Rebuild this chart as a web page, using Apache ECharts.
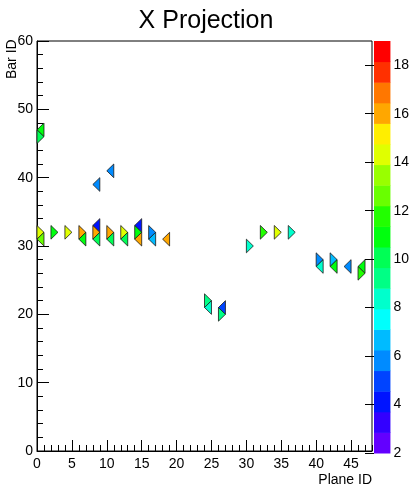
<!DOCTYPE html>
<html>
<head>
<meta charset="utf-8">
<script src="https://cdn.jsdelivr.net/npm/echarts@6/dist/echarts.min.js"></script>
<style>
  html, body { margin: 0; padding: 0; background: #fff; }
  #chart { width: 412px; height: 487px; }
</style>
</head>
<body>
<div id="chart"></div>
<script>
// hits: plane, bar, deposited value
const planeIds = [0, 0, 0, 0, 2, 4, 6, 6, 8, 8, 8, 8, 10, 10, 10, 12, 12, 14, 14, 14, 16, 16, 18,
  24, 24, 26, 26, 30, 32, 34, 36, 40, 40, 42, 42, 44, 46, 46];
const barIds = [32, 31, 47, 46, 32, 32, 32, 31, 33, 32, 31, 39, 32, 31, 41, 32, 31, 33, 32, 31, 32, 31, 31,
  22, 21, 21, 20, 30, 32, 32, 32, 28, 27, 28, 27, 27, 27, 26];
const energies = [14.3, 12.6, 11.0, 10.0, 11.2, 14.4, 16.0, 11.0, 4.2, 16.0, 10.0, 5.8, 16.2, 10.0, 5.8,
  14.4, 10.2, 4.4, 11.0, 16.0, 5.9, 6.7, 16.0,
  9.3, 8.6, 4.8, 9.0, 8.4, 11.5, 14.4, 8.4, 5.8, 8.3, 6.6, 11.0, 5.9, 11.0, 12.0];

const zMin = 2;
const zMax = 19;
const nContours = 20;

// old ROOT "pretty" palette: 50 hues violet -> red, picked per contour
function contourColor(k) {
  const idx = Math.floor((k + 0.99) * 50 / nContours);
  const h = 280 - (idx + 1) * 5.6;
  const f = (n) => {
    const kk = (n + h / 30) % 12;
    const v = 0.5 - 0.5 * Math.max(-1, Math.min(kk - 3, 9 - kk, 1));
    return Math.round(v * 255);
  };
  return 'rgb(' + f(0) + ',' + f(8) + ',' + f(4) + ')';
}
function zColor(z) {
  let k = Math.floor((z - zMin) / (zMax - zMin) * nContours);
  k = Math.max(0, Math.min(nContours - 1, k));
  return contourColor(k);
}

const hits = planeIds.map((p, i) => [p, barIds[i], energies[i]]);
const levels = [];
for (let k = 0; k < nContours; k++) levels.push([k]);

const font = 'Liberation Sans, Arial, Helvetica, sans-serif';
const chart = echarts.init(document.getElementById('chart'));

chart.setOption({
  animation: false,
  backgroundColor: '#fff',
  title: {
    text: 'X Projection',
    left: 'center',
    top: 4,
    textStyle: { fontFamily: font, fontSize: 25, fontWeight: 'normal', color: '#000' }
  },
  grid: [
    { left: 37, top: 41, width: 335, height: 412, show: true, borderColor: '#000', borderWidth: 1, backgroundColor: '#fff' },
    { left: 374, top: 41, width: 18, height: 412 }
  ],
  xAxis: [
    {
      gridIndex: 0, type: 'value', min: 0, max: 48, interval: 5,
      name: 'Plane ID', nameLocation: 'end', nameGap: 0,
      nameTextStyle: { fontFamily: font, fontSize: 14, color: '#000', align: 'right', verticalAlign: 'top', padding: [22, 0, 0, 0] },
      axisLine: { lineStyle: { color: '#000', width: 1 } },
      axisTick: { inside: true, length: 11, lineStyle: { color: '#000' } },
      axisLabel: { fontFamily: font, fontSize: 14, color: '#000', margin: 6, showMaxLabel: false },
      splitLine: { show: false }
    },
    {
      gridIndex: 0, type: 'value', min: 0, max: 48, interval: 1, position: 'bottom',
      axisLine: { show: false },
      axisTick: { inside: true, length: 6, lineStyle: { color: '#000' } },
      axisLabel: { show: false },
      splitLine: { show: false }
    },
    { gridIndex: 1, type: 'value', min: 0, max: 1, show: false }
  ],
  yAxis: [
    {
      gridIndex: 0, type: 'value', min: 0, max: 60, interval: 10,
      name: 'Bar ID', nameLocation: 'end', nameGap: -38, nameRotate: 90, nameMoveOverlap: false,
      nameTextStyle: { fontFamily: font, fontSize: 14, color: '#000', verticalAlign: 'bottom', padding: [0, 0, 18, 0] },
      axisLine: { lineStyle: { color: '#000', width: 1 } },
      axisTick: { inside: true, length: 12, lineStyle: { color: '#000' } },
      axisLabel: { fontFamily: font, fontSize: 14, color: '#000', margin: 4 },
      splitLine: { show: false }
    },
    {
      gridIndex: 0, type: 'value', min: 0, max: 60, interval: 2, position: 'left',
      axisLine: { show: false },
      axisTick: { inside: true, length: 6, lineStyle: { color: '#000' } },
      axisLabel: { show: false },
      splitLine: { show: false }
    },
    {
      gridIndex: 1, type: 'value', min: zMin, max: zMax, interval: 2, position: 'right',
      axisLine: { show: false },
      axisTick: { inside: true, length: 9, lineStyle: { color: '#000' } },
      axisLabel: { fontFamily: font, fontSize: 14, color: '#000', margin: 3, showMaxLabel: false },
      splitLine: { show: false }
    }
  ],
  series: [
    {
      type: 'custom',
      xAxisIndex: 0, yAxisIndex: 0,
      data: hits,
      renderItem: function (params, api) {
        const p = api.value(0), b = api.value(1), z = api.value(2);
        // triangular strips: odd bars point left, even bars point right
        const pts = (b % 2)
          ? [[p, b], [p + 1, b + 1], [p + 1, b - 1]]
          : [[p + 1, b], [p, b + 1], [p, b - 1]];
        return {
          type: 'polygon',
          shape: { points: pts.map(q => api.coord(q)) },
          style: { fill: zColor(z), stroke: '#1a1a1a', lineWidth: 0.8 }
        };
      }
    },
    {
      type: 'custom',
      xAxisIndex: 2, yAxisIndex: 2,
      data: levels,
      renderItem: function (params, api) {
        const k = api.value(0);
        const step = (zMax - zMin) / nContours;
        const a = api.coord([0, zMin + (k + 1) * step]);
        const b = api.coord([1, zMin + k * step]);
        return {
          type: 'rect',
          shape: { x: a[0], y: a[1], width: b[0] - a[0], height: b[1] - a[1] + 0.5 },
          style: { fill: contourColor(k) }
        };
      }
    }
  ]
});
</script>
</body>
</html>
